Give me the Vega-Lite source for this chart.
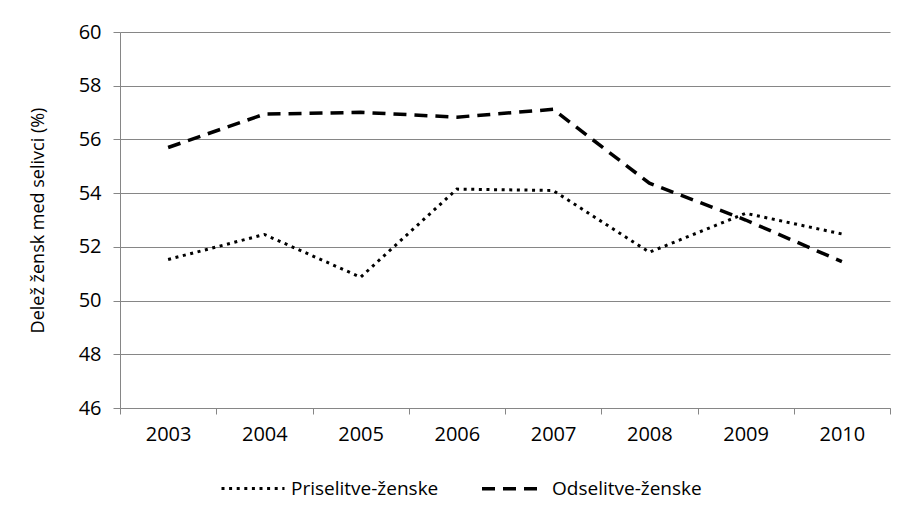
{
  "$schema": "https://vega.github.io/schema/vega-lite/v6.json",
  "width": 770,
  "height": 376,
  "autosize": {"type": "none"},
  "padding": {"left": 120, "top": 32, "right": 14, "bottom": 104},
  "background": "white",
  "config": {
    "view": {"stroke": null},
    "font": "Open Sans"
  },
  "data": {
    "values": [
      {"year": "2003", "series": "Priselitve-ženske", "value": 51.53},
      {"year": "2004", "series": "Priselitve-ženske", "value": 52.46},
      {"year": "2005", "series": "Priselitve-ženske", "value": 50.87},
      {"year": "2006", "series": "Priselitve-ženske", "value": 54.15},
      {"year": "2007", "series": "Priselitve-ženske", "value": 54.1},
      {"year": "2008", "series": "Priselitve-ženske", "value": 51.8},
      {"year": "2009", "series": "Priselitve-ženske", "value": 53.25},
      {"year": "2010", "series": "Priselitve-ženske", "value": 52.48},
      {"year": "2003", "series": "Odselitve-ženske", "value": 55.7},
      {"year": "2004", "series": "Odselitve-ženske", "value": 56.94},
      {"year": "2005", "series": "Odselitve-ženske", "value": 57.01},
      {"year": "2006", "series": "Odselitve-ženske", "value": 56.83},
      {"year": "2007", "series": "Odselitve-ženske", "value": 57.12},
      {"year": "2008", "series": "Odselitve-ženske", "value": 54.37},
      {"year": "2009", "series": "Odselitve-ženske", "value": 53.0},
      {"year": "2010", "series": "Odselitve-ženske", "value": 51.45}
    ]
  },
  "mark": {"type": "line", "color": "black"},
  "encoding": {
    "x": {
      "field": "year",
      "type": "ordinal",
      "scale": {"paddingInner": 0, "paddingOuter": 0},
      "axis": {
        "title": null,
        "labelAngle": 0,
        "labelFontSize": 20,
        "labelColor": "black",
        "labelPadding": 10,
        "tickBand": "extent",
        "tickSize": 6,
        "tickColor": "#868686",
        "domainColor": "#868686",
        "grid": false
      }
    },
    "y": {
      "field": "value",
      "type": "quantitative",
      "scale": {"domain": [46, 60], "nice": false, "zero": false},
      "axis": {
        "title": "Delež žensk med selivci (%)",
        "titleFontSize": 18,
        "titleFontWeight": "normal",
        "titleColor": "black",
        "titlePadding": 31,
        "values": [46, 48, 50, 52, 54, 56, 58, 60],
        "labelFontSize": 20,
        "labelColor": "black",
        "labelPadding": 12,
        "tickSize": 7,
        "tickColor": "#868686",
        "domainColor": "#868686",
        "gridColor": "#868686",
        "gridWidth": 1.2
      }
    },
    "strokeDash": {
      "field": "series",
      "type": "nominal",
      "sort": ["Priselitve-ženske", "Odselitve-ženske"],
      "scale": {"domain": ["Priselitve-ženske", "Odselitve-ženske"], "range": [[3, 4.6], [13, 8]]},
      "legend": {
        "title": null,
        "orient": "none",
        "legendX": 100,
        "legendY": 423,
        "direction": "horizontal",
        "symbolType": "stroke",
        "symbolSize": 3969,
        "symbolStrokeColor": "black",
        "symbolStrokeWidth": 3,
        "labelFontSize": 19,
        "labelColor": "black",
        "labelOffset": 5,
        "columnPadding": 36
      }
    },
    "strokeWidth": {
      "field": "series",
      "type": "nominal",
      "scale": {"domain": ["Priselitve-ženske", "Odselitve-ženske"], "range": [3, 3.5]},
      "legend": null
    }
  }
}
